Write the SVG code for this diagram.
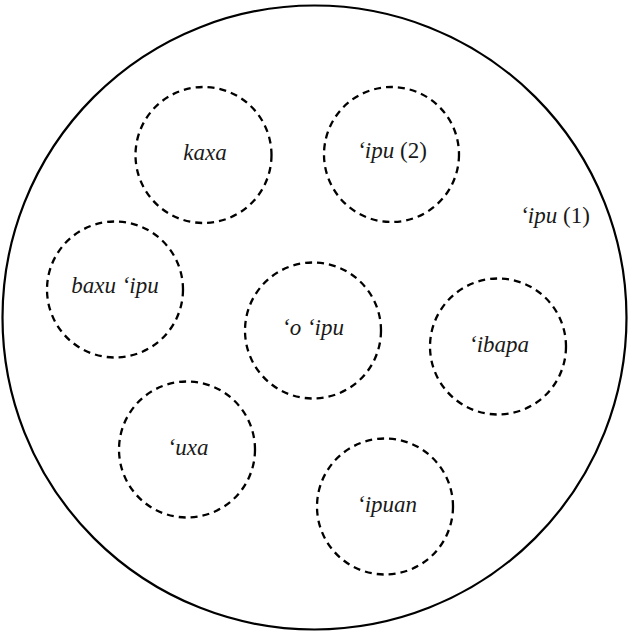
<svg xmlns="http://www.w3.org/2000/svg" width="629" height="633" viewBox="0 0 629 633">
<style>
.outer{fill:none;stroke:#000;stroke-width:2.2}
.sub{fill:none;stroke:#000;stroke-width:2.3;stroke-dasharray:7 5}
text{font-family:"Liberation Serif","Times New Roman",serif;font-size:23px;font-style:italic;fill:#1a1a1a;text-anchor:middle}
.r{font-style:normal}
</style>
<rect width="629" height="633" fill="#fff"/>
<g id="ipu1">
<circle class="outer" cx="314.5" cy="317.5" r="312"/>
<text x="555" y="223">ʻipu <tspan class="r">(1)</tspan></text>
</g>
<g id="kaxa">
<circle class="sub" cx="203.5" cy="155" r="68"/>
<text x="205" y="160">kaxa</text>
</g>
<g id="ipu2">
<circle class="sub" cx="391.5" cy="154.5" r="67.5"/>
<text x="392" y="158">ʻipu <tspan class="r">(2)</tspan></text>
</g>
<g id="baxuipu">
<circle class="sub" cx="115" cy="289.5" r="68"/>
<text x="115" y="293">baxu ʻipu</text>
</g>
<g id="oipu">
<circle class="sub" cx="313" cy="330.5" r="68"/>
<text x="313" y="335">ʻo ʻipu</text>
</g>
<g id="ibapa">
<circle class="sub" cx="498" cy="346.5" r="68"/>
<text x="499" y="352">ʻibapa</text>
</g>
<g id="uxa">
<circle class="sub" cx="187" cy="449.5" r="68"/>
<text x="188" y="455">ʻuxa</text>
</g>
<g id="ipuan">
<circle class="sub" cx="385" cy="506.5" r="68"/>
<text x="387" y="512">ʻipuan</text>
</g>
<g id="connectors"></g>
</svg>
